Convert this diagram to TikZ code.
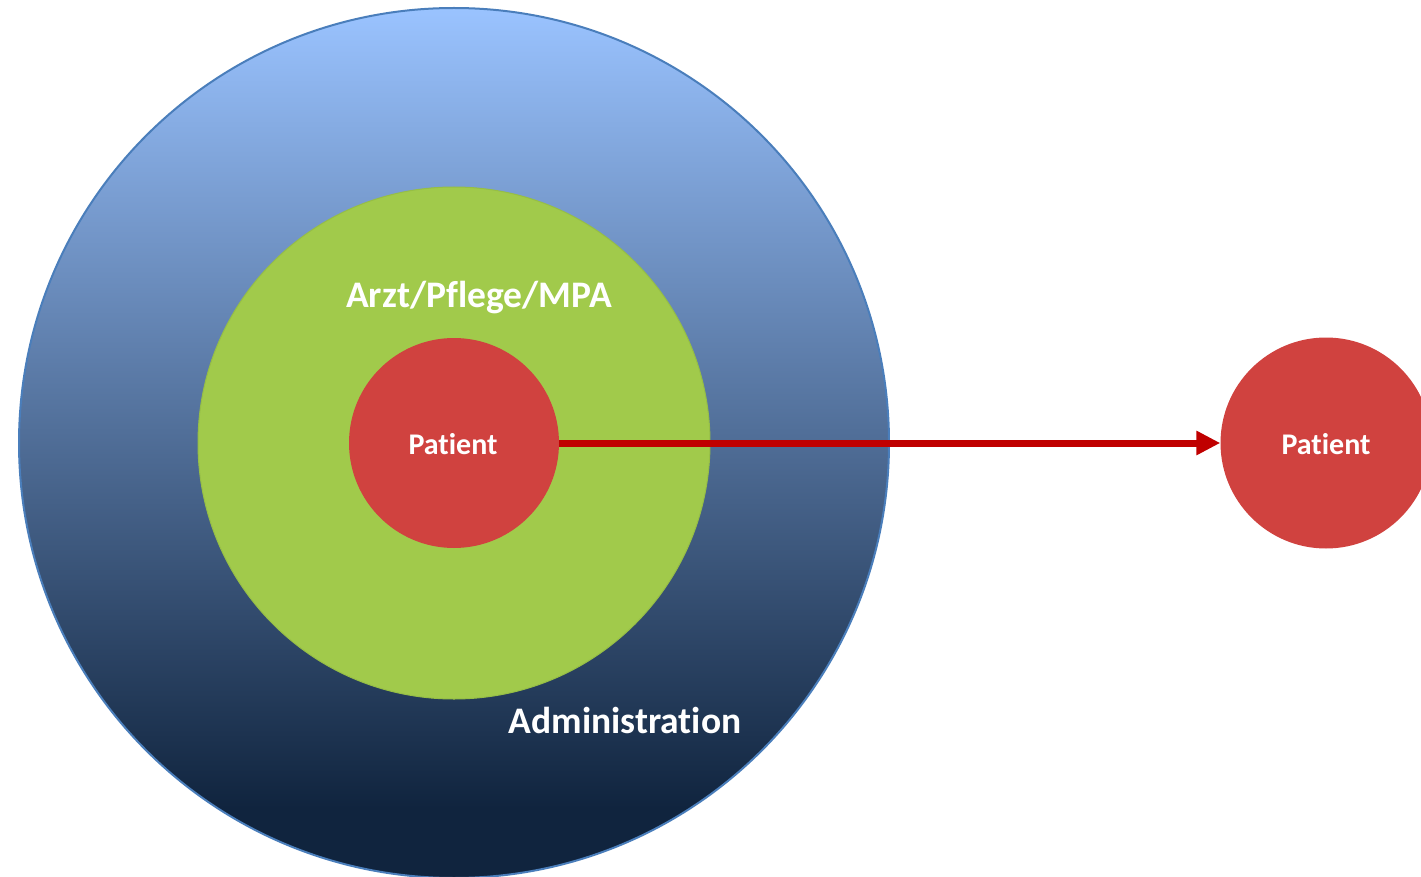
\documentclass[tikz,border=0pt]{standalone}
\usepackage{fontspec}
\setmainfont{Carlito}[Ligatures=NoCommon]
\usetikzlibrary{arrows.meta}
\definecolor{outertop}{RGB}{154,195,255}
\definecolor{outerbot}{RGB}{16,36,62}
\definecolor{outerline}{RGB}{74,126,187}
\definecolor{greenfill}{RGB}{161,202,75}
\definecolor{greenline}{RGB}{150,190,70}
\definecolor{redfill}{RGB}{208,66,63}
\definecolor{arrowred}{RGB}{192,0,0}
\pgfdeclareverticalshading{outershade}{100bp}{color(0bp)=(outerbot); color(29bp)=(outerbot); color(75bp)=(outertop); color(100bp)=(outertop)}
\tikzset{
  ring/.style={circle, inner sep=0pt},
  lbl/.style={text=white, font=\bfseries\fontsize{30}{34}\selectfont},
  biglbl/.style={text=white, font=\bfseries\fontsize{37.5}{42}\selectfont},
}
\begin{document}
\begin{tikzpicture}[x=1pt,y=-1pt]
\useasboundingbox (0,0) rectangle (1421,877);
\node[ring, minimum size=870pt, shading=outershade, draw=outerline, line width=2pt] (outer) at (454,443) {};
\node[ring, minimum size=512pt, fill=greenfill, draw=greenline, line width=1pt] (mid) at (454,443) {};
\node[ring, minimum size=210pt, fill=redfill] (inner) at (454,443) {};
\node[lbl] (pat1) at (453,444) {Patient};
\node[biglbl] (arzt) at (479,298) {Arzt/Pflege/MPA};
\node[biglbl] (admin) at (625,720) {Administration};
\node[ring, minimum size=211pt, fill=redfill] (right) at (1326,443) {};
\node[lbl] (pat2) at (1326,444) {Patient};
\draw[arrowred, line width=7pt, -{Triangle[length=24pt,width=23pt]}] (inner.east) -- (right.west);
\end{tikzpicture}
\end{document}
